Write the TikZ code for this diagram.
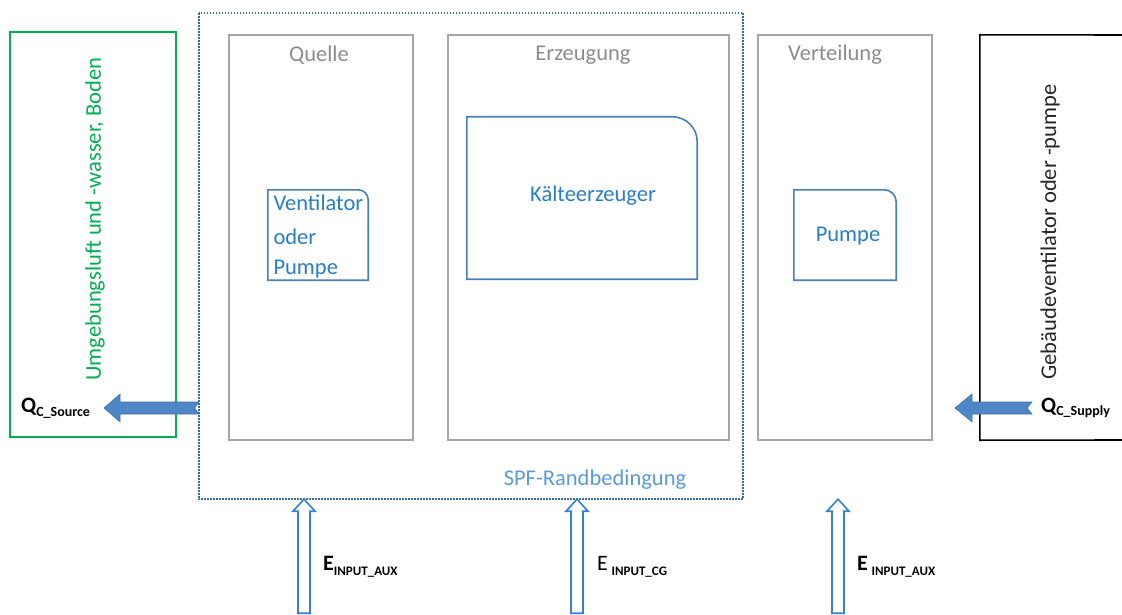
\documentclass[tikz,border=0pt]{standalone}
\usepackage{fontspec}
\setmainfont{Carlito}
\usetikzlibrary{calc}
\definecolor{greenc}{RGB}{0,176,80}
\definecolor{grayline}{RGB}{166,166,166}
\definecolor{graytext}{RGB}{140,140,140}
\definecolor{dotc}{RGB}{60,105,165}
\definecolor{innerline}{RGB}{74,126,187}
\definecolor{innertext}{RGB}{40,125,200}
\definecolor{spftext}{RGB}{91,155,213}
\definecolor{fillarrow}{RGB}{79,134,198}
\definecolor{hollowc}{RGB}{50,130,210}
\tikzset{
  graybox/.style={draw=grayline, line width=1.8pt, inner sep=0pt},
  blank/.style={inner sep=0pt},
  bigfont/.style={font=\fontsize{22.5}{27}\selectfont},
  headtext/.style={text=graytext, bigfont},
  innerlbl/.style={text=innertext, bigfont},
  innerbox/.style={draw=innerline, line width=1.6pt},
  hollowarrow/.style={draw=hollowc, line width=1.6pt, fill=white},
  fillarr/.style={fill=fillarrow, draw=fillarrow!85!black, line width=0.6pt},
  lbl/.style={inner sep=0pt, text=black},
}
\newcommand{\subb}[1]{{\fontsize{13}{15}\selectfont\bfseries #1}}
\newcommand{\subq}[1]{{\fontsize{14}{16}\selectfont\bfseries #1}}
\begin{document}
\begin{tikzpicture}[x=1pt,y=-1pt]
\useasboundingbox (0,0) rectangle (1122,615);
\clip (0,0) rectangle (1122,615);
% outer boxes
\node[draw=greenc, line width=1.4pt, blank, minimum width=166pt, minimum height=405pt] (env) at (93,234.5) {};
\node[rotate=90, text=greenc, bigfont] (envt) at (95,219) {Umgebungsluft und -wasser, Boden};
\node[blank, minimum width=544pt, minimum height=486pt] (spf) at (471,256) {};
\draw[dotc, line width=2.2pt, dash pattern=on 1.8pt off 1.2pt] (spf.north west) rectangle (spf.south east);
\node[text=spftext, bigfont] (spft) at (595,480) {SPF-Randbedingung};
% gray stage boxes
\node[graybox, minimum width=184pt, minimum height=405pt] (quelle) at (321,237.5) {};
\node[graybox, minimum width=281pt, minimum height=405pt] (erz) at (588.5,237.5) {};
\node[graybox, minimum width=174pt, minimum height=405pt] (vert) at (845,237.5) {};
\node[headtext] at (319,55) {Quelle};
\node[headtext] at (583,55) {Erzeugung};
\node[headtext] at (835,55) {Verteilung};
% building box (right side open past the edge)
\node[blank, minimum width=160pt, minimum height=405pt] (bldg) at (1060,237.5) {};
\draw[black, line width=1.6pt] (1130,35) -- (bldg.north west) -- (bldg.south west) -- (1130,440);
\node[rotate=90, text=black!85, bigfont] (bldgt) at (1050,232) {Gebäudeventilator oder -pumpe};
% inner component boxes (top-right corner rounded)
\node[blank, minimum width=100pt, minimum height=90pt] (vent) at (318,235) {};
\draw[innerbox] (vent.south west) -- (vent.north west) -- ($(vent.north east)+(-10,0)$)
  .. controls ($(vent.north east)+(-4.5,0)$) and ($(vent.north east)+(0,4.5)$) .. ($(vent.north east)+(0,10)$)
  -- (vent.south east) -- cycle;
\node[innerlbl, anchor=west] at (270,203) {Ventilator};
\node[innerlbl, anchor=west] at (270,237) {oder};
\node[innerlbl, anchor=west] at (270,269) {Pumpe};
\node[blank, minimum width=230pt, minimum height=162pt] (kg) at (582,198) {};
\draw[innerbox] (kg.south west) -- (kg.north west) -- ($(kg.north east)+(-25,0)$)
  .. controls ($(kg.north east)+(-11,0)$) and ($(kg.north east)+(0,11)$) .. ($(kg.north east)+(0,25)$)
  -- (kg.south east) -- cycle;
\node[innerlbl] at (593,196) {Kälteerzeuger};
\node[blank, minimum width=102pt, minimum height=90pt] (pumpe) at (845,235) {};
\draw[innerbox] (pumpe.south west) -- (pumpe.north west) -- ($(pumpe.north east)+(-12,0)$)
  .. controls ($(pumpe.north east)+(-5.4,0)$) and ($(pumpe.north east)+(0,5.4)$) .. ($(pumpe.north east)+(0,12)$)
  -- (pumpe.south east) -- cycle;
\node[innerlbl] at (848,236) {Pumpe};
% heat flow arrows
\coordinate (srcTip) at (104,408);
\coordinate (srcTail) at (spf.west |- srcTip);
\draw[fillarr] (srcTip) -- ++(16,-14) -- ++(0,8) -- ($(srcTail)+(0,-6)$) -- ($(srcTail)+(-4,0)$) -- ($(srcTail)+(0,6)$) -- ($(srcTip)+(16,6)$) -- ++(0,8) -- cycle;
\node[lbl, anchor=west] (qsrc) at (21,408) {\fontsize{22}{26}\selectfont\bfseries Q\raisebox{-0.35ex}{\subq{C\_Source}}};
\coordinate (supTip) at (955,408);
\coordinate (supTail) at (1032,408);
\draw[fillarr] (supTip) -- ++(17,-14) -- ++(0,8) -- ($(supTail)+(0,-6)$) -- ($(supTail)+(-5,0)$) -- ($(supTail)+(0,6)$) -- ($(supTip)+(17,6)$) -- ++(0,8) -- cycle;
\node[lbl, anchor=west] (qsup) at (1041,408) {\fontsize{22}{26}\selectfont\bfseries Q\raisebox{-0.35ex}{\subq{C\_Supply}}};
% energy input arrows (hollow)
\foreach \n/\x in {a1/304, a2/577, a3/838} {
  \coordinate (\n) at (\x,615);
  \coordinate (\n t) at (\n |- spf.south);
  \draw[hollowarrow] (\n t) -- ++(11,12) -- ++(-5,0) -- ++(0,102) -- ++(-12,0) -- ++(0,-102) -- ++(-5,0) -- cycle;
}
\node[lbl, anchor=west] (e1) at (323,567) {\fontsize{22}{26}\selectfont\bfseries E\raisebox{-0.45ex}{\subb{INPUT\_AUX}}};
\node[lbl, anchor=west] (e2) at (597,567) {\fontsize{22}{26}\selectfont E\,\raisebox{-0.45ex}{\subb{INPUT\_CG}}};
\node[lbl, anchor=west] (e3) at (857,567) {\fontsize{22}{26}\selectfont\bfseries E\,\raisebox{-0.45ex}{\subb{INPUT\_AUX}}};
\end{tikzpicture}
\end{document}
